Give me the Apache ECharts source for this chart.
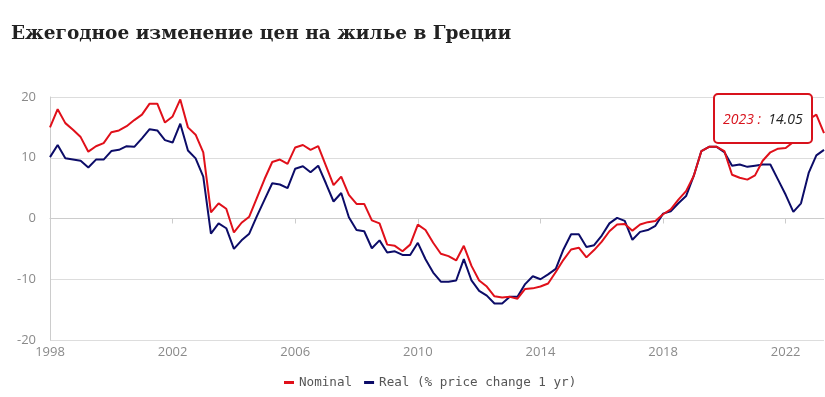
<!DOCTYPE html>
<html>
<head>
<meta charset="utf-8">
<script src="https://cdn.jsdelivr.net/npm/echarts@6/dist/echarts.min.js"></script>
<style>
  html, body { margin: 0; padding: 0; background: #fff; }
  #canvas_main { width: 825px; height: 397px; }
</style>
</head>
<body>
<div id="canvas_main"></div>
<script>
// quarterly data, 1998 Q1 .. 2023 Q2
var years = [1998, 1999, 2000, 2001, 2002, 2003, 2004, 2005, 2006, 2007, 2008, 2009, 2010,
	2011, 2012, 2013, 2014, 2015, 2016, 2017, 2018, 2019, 2020, 2021, 2022, 2023];
var quarters = ['Q1', 'Q2', 'Q3', 'Q4'];
var tickYears = ['1998', '2002', '2006', '2010', '2014', '2018', '2022'];

var nominal = [
	15.0, 18.0, 15.7, 14.6, 13.4, 11.0, 11.9, 12.4, 14.2, 14.5, 15.2, 16.2, 17.1, 18.9, 18.9, 15.8,
	16.8, 19.6, 15.0, 13.8, 10.9, 1.0, 2.5, 1.6, -2.3, -0.7, 0.3, 3.4, 6.5, 9.3, 9.7, 9.0,
	11.7, 12.1, 11.3, 11.9, 8.7, 5.5, 6.9, 3.9, 2.4, 2.4, -0.3, -0.8, -4.3, -4.5, -5.4, -4.3,
	-1.0, -1.9, -4.0, -5.8, -6.2, -6.9, -4.5, -7.8, -10.2, -11.2, -12.8, -13.0, -12.9, -13.2, -11.6, -11.5,
	-11.2, -10.7, -8.8, -6.8, -5.1, -4.8, -6.4, -5.2, -3.8, -2.1, -1.0, -0.9, -2.0, -1.0, -0.6, -0.4,
	0.7, 1.5, 3.1, 4.5, 7.0, 11.1, 11.8, 11.8, 11.1, 7.2, 6.7, 6.4, 7.1, 9.5, 10.9, 11.5,
	11.6, 12.6, 14.3, 16.3, 17.1, 14.05
];
var real = [
	10.1, 12.1, 9.9, 9.7, 9.5, 8.4, 9.7, 9.7, 11.1, 11.3, 11.9, 11.8, 13.2, 14.7, 14.5, 12.9,
	12.5, 15.6, 11.2, 9.9, 6.9, -2.5, -0.8, -1.6, -5.0, -3.6, -2.5, 0.4, 3.1, 5.8, 5.6, 5.0,
	8.2, 8.6, 7.6, 8.7, 5.8, 2.8, 4.2, 0.2, -1.9, -2.1, -4.9, -3.6, -5.6, -5.4, -6.0, -6.0,
	-4.0, -6.7, -8.9, -10.4, -10.4, -10.2, -6.7, -10.2, -11.9, -12.7, -14.0, -14.0, -12.9, -12.9, -10.8, -9.5,
	-10.0, -9.2, -8.3, -5.1, -2.6, -2.6, -4.7, -4.4, -2.8, -0.8, 0.1, -0.4, -3.5, -2.2, -1.9, -1.2,
	0.8, 1.2, 2.5, 3.7, 7.0, 11.1, 11.8, 11.8, 10.9, 8.7, 8.9, 8.5, 8.7, 8.9, 8.9, 6.4,
	3.9, 1.1, 2.5, 7.5, 10.4, 11.3
];

var categories = [];
years.forEach(function (y) {
	quarters.forEach(function (q) { categories.push(y + ' ' + q); });
});
categories = categories.slice(0, nominal.length);

function isTick(index, value) {
	var parts = value.split(' ');
	return parts[1] === 'Q1' && tickYears.indexOf(parts[0]) >= 0;
}

var myChart = echarts.init(document.getElementById('canvas_main'));
var option = {
	animation: false,
	title: {
		text: 'Ежегодное изменение цен на жилье в Греции',
		left: 6,
		top: 20,
		textStyle: {
			fontFamily: 'DejaVu Serif',
			fontWeight: 'bold',
			fontSize: 18.5,
			color: '#222'
		}
	},
	tooltip: {
		trigger: 'axis',
		alwaysShowContent: true,
		transitionDuration: 0,
		axisPointer: { type: 'none' },
		position: [713, 93],
		backgroundColor: '#fff',
		borderColor: '#d8121c',
		borderWidth: 2,
		borderRadius: 5,
		padding: [13, 8],
		extraCssText: 'box-shadow:none;',
		textStyle: { fontFamily: 'Open Sans', fontSize: 14, fontStyle: 'italic', color: '#222' },
		formatter: function (params) {
			var p = params[0];
			var year = p.name.split(' ')[0];
			return '<span style="color:#d8121c">' + year + ' :</span>&nbsp; ' + p.value;
		}
	},
	legend: {
		bottom: 3,
		left: 279,
		icon: 'rect',
		itemWidth: 10,
		itemHeight: 3,
		itemGap: 12,
		textStyle: { fontFamily: 'DejaVu Sans Mono', fontSize: 12.6, color: '#555' },
		data: ['Nominal', 'Real (% price change 1 yr)']
	},
	grid: { left: 50, right: 1, top: 97, bottom: 57 },
	xAxis: {
		type: 'category',
		boundaryGap: false,
		data: categories,
		axisLine: { lineStyle: { color: '#ccc' } },
		axisTick: { interval: isTick, length: 5, lineStyle: { color: '#ccc' } },
		axisLabel: {
			interval: isTick,
			margin: 6,
			color: '#8a8a8a',
			fontFamily: 'Open Sans',
			fontSize: 13,
			formatter: function (v) { return v.split(' ')[0]; }
		},
		splitLine: { show: false }
	},
	yAxis: {
		type: 'value',
		min: -20,
		max: 20,
		interval: 10,
		axisLine: { show: true, lineStyle: { color: '#ccc' } },
		axisTick: { show: false },
		axisLabel: { margin: 14, color: '#8a8a8a', fontFamily: 'Open Sans', fontSize: 13 },
		splitLine: { lineStyle: { color: '#ddd' } }
	},
	series: [
		{
			name: 'Nominal',
			type: 'line',
			data: nominal,
			symbol: 'none',
			color: '#e0101a',
			lineStyle: { width: 2, color: '#e0101a' },
			emphasis: { disabled: true },
			z: 3
		},
		{
			name: 'Real (% price change 1 yr)',
			type: 'line',
			data: real,
			symbol: 'none',
			color: '#0c0c68',
			lineStyle: { width: 2, color: '#0c0c68' },
			emphasis: { disabled: true },
			z: 2
		}
	]
};
myChart.setOption(option);
myChart.dispatchAction({ type: 'showTip', seriesIndex: 0, dataIndex: nominal.length - 1 });
</script>
</body>
</html>
